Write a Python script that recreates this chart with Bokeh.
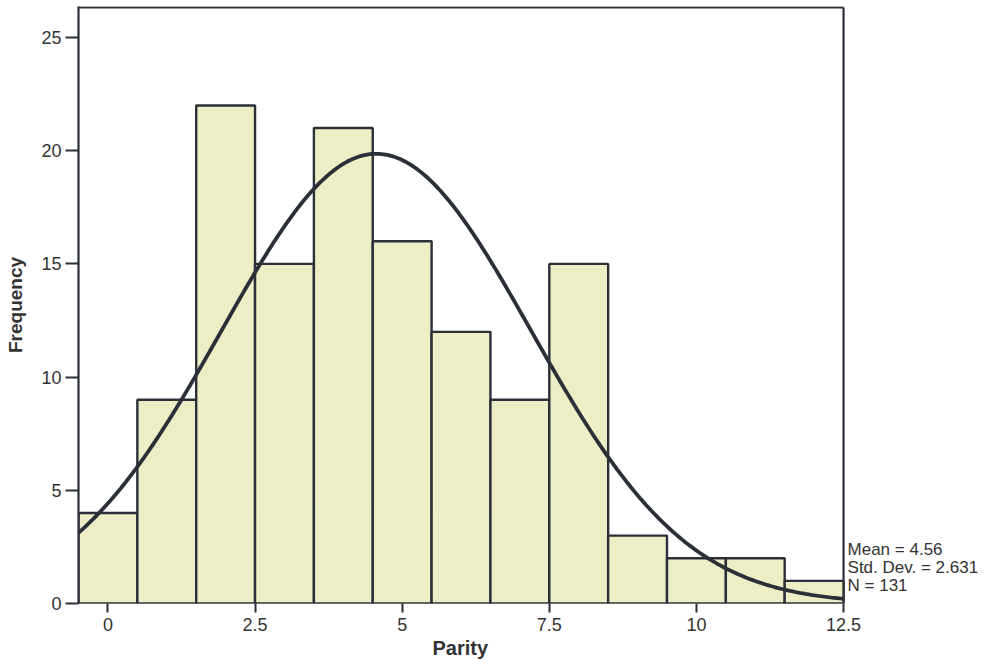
import numpy as np
from bokeh.plotting import figure
from bokeh.models import Range1d, FixedTicker, Title
from bokeh.core.properties import value
from bokeh.embed import file_html
from bokeh.resources import INLINE

# Histogram data (Parity)
parity = [0, 1, 2, 3, 4, 5, 6, 7, 8, 9, 10, 11, 12]
frequency = [4, 9, 22, 15, 21, 16, 12, 9, 15, 3, 2, 2, 1]
bin_width = 1.0

# Fitted normal statistics shown on the chart
mean_val = 4.56
sd_val = 2.631
n_val = 131

x_ticks = [0, 2.5, 5, 7.5, 10, 12.5]
y_ticks = [0, 5, 10, 15, 20, 25]

FONT = "Liberation Sans"
DARK = "#2b2f38"
TXT = "#333333"
FILL = "#eeeec6"

x_lo, x_hi = -0.5, 12.5      # histogram axis extent
y_top = 26.33                 # top of the plotting box

p = figure(width=995, height=659, output_backend="svg", toolbar_location=None,
           x_range=Range1d(x_lo, 14.997), y_range=Range1d(0, 26.37),
           min_border_left=78, min_border_right=5, min_border_top=6, min_border_bottom=0)
p.background_fill_color = "white"
p.border_fill_color = "white"
p.outline_line_color = None
p.xgrid.visible = False
p.ygrid.visible = False

# box edges (bottom, top, right) of the plotting area
p.segment(x0=[x_lo, x_lo, x_hi], y0=[0, y_top, 0], x1=[x_hi, x_hi, x_hi], y1=[0, y_top, y_top],
          line_color=DARK, line_width=2.2)

p.quad(left=[v - bin_width / 2 for v in parity], right=[v + bin_width / 2 for v in parity],
       bottom=0, top=frequency, fill_color=FILL, line_color=DARK, line_width=2.4)

xs = np.linspace(x_lo, x_hi, 400)
ys = n_val * bin_width * np.exp(-0.5 * ((xs - mean_val) / sd_val) ** 2) / (sd_val * np.sqrt(2 * np.pi))
p.line(xs, ys, line_color=DARK, line_width=3.8)

for ax in (p.xaxis[0], p.yaxis[0]):
    ax.major_tick_line_color = DARK
    ax.major_tick_line_width = 2
    ax.major_tick_in = 0
    ax.minor_tick_line_color = None
    ax.major_label_text_font = FONT
    ax.major_label_text_font_size = "18px"
    ax.major_label_text_color = TXT
    ax.axis_label_text_font = FONT
    ax.axis_label_text_font_style = "bold"
    ax.axis_label_text_color = TXT

p.xaxis.axis_line_color = None
p.yaxis.axis_line_color = DARK
p.yaxis.axis_line_width = 2.2
p.xaxis.ticker = FixedTicker(ticks=x_ticks)
p.yaxis.ticker = FixedTicker(ticks=y_ticks)
p.xaxis.major_label_overrides = {12.5: "12.5", 10: "10", 7.5: "7.5", 5: "5", 2.5: "2.5", 0: "0"}
p.xaxis.major_tick_out = 9
p.yaxis.major_tick_out = 13
p.xaxis.major_label_standoff = 5
p.yaxis.major_label_standoff = 4
p.yaxis.axis_label = "Frequency"
p.yaxis.axis_label_text_font_size = "19px"
p.yaxis.axis_label_standoff = 12

# x-axis title placed under the middle of the histogram box
p.add_layout(Title(text="Parity", align="left", offset=354, text_font=FONT,
                   text_font_size="20px", text_font_style="bold", text_color=TXT,
                   standoff=2), "below")

stats = [f"Mean = {mean_val}", f"Std. Dev. = {sd_val}", f"N = {n_val}"]
p.text(x=[x_hi] * 3, y=[0] * 3, text=stats, x_offset=4, y_offset=[-54, -36, -18],
       text_font=value(FONT), text_font_size="17px", text_color=TXT,
       text_baseline="middle", text_align="left")

open("out.html", "w").write(file_html(p, INLINE))
